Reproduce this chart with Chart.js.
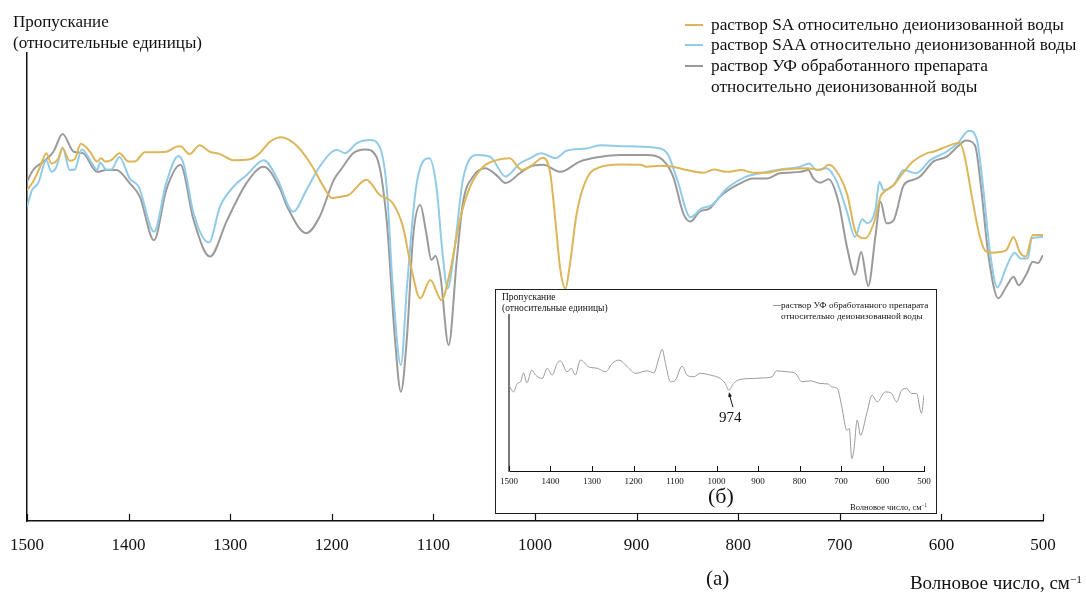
<!DOCTYPE html>
<html>
<head>
<meta charset="utf-8">
<script src="https://cdn.jsdelivr.net/npm/chart.js@4.4.1/dist/chart.umd.min.js"></script>
<style>
  html, body { margin: 0; padding: 0; background: #fff; }
  body { width: 1086px; height: 592px; position: relative; overflow: hidden; font-family: "Liberation Serif", "DejaVu Serif", serif; color: #111; }
  .t { position: absolute; white-space: nowrap; }
  #main { position: absolute; left: 0; top: 0; }
  #insetBox { position: absolute; left: 495px; top: 289px; width: 440px; height: 223px; border: 1px solid #222; background: #fff; }
  #inset { position: absolute; left: 0; top: 0; }
  .mk { position: absolute; height: 2px; }
  sup { font-size: 0.6em; vertical-align: 0.5em; line-height: 0; }
</style>
</head>
<body>
<canvas id="main" width="1086" height="592"></canvas>

<div class="t" style="left:13px; top:12px; font-size:17px; line-height:20px;">Пропускание</div>
<div class="t" style="left:13px; top:33px; font-size:17px; line-height:20px;">(относительные единицы)</div>

<div class="mk" style="left:685px; top:24px; width:18px; background:#DDB65A;"></div>
<div class="mk" style="left:685px; top:44px; width:18px; background:#92CBE8;"></div>
<div class="mk" style="left:685px; top:65px; width:18px; background:#999999;"></div>
<div class="t" style="left:711px; top:15px; font-size:17.3px; line-height:20px;">раствор SA относительно деионизованной воды</div>
<div class="t" style="left:711px; top:35px; font-size:17.3px; line-height:20px;">раствор SAA относительно деионизованной воды</div>
<div class="t" style="left:711px; top:56px; font-size:17.3px; line-height:20px;">раствор УФ обработанного препарата</div>
<div class="t" style="left:711px; top:77px; font-size:17.3px; line-height:20px;">относительно деионизованной воды</div>

<div class="t" style="left:706px; top:566px; font-size:21px; line-height:24px;">(а)</div>
<div class="t" style="right:4px; top:573px; font-size:19px; line-height:20px;">Волновое число, см<sup>−1</sup></div>

<div id="insetBox">
  <canvas id="inset" width="440" height="223"></canvas>
  <div class="t" style="left:6px; top:1px; font-size:9.5px; line-height:12px;">Пропускание</div>
  <div class="t" style="left:6px; top:12px; font-size:9.5px; line-height:12px;">(относительные единицы)</div>
  <div class="mk" style="left:277px; top:15px; width:8px; height:1px; background:#999;"></div>
  <div class="t" style="left:285px; top:9px; font-size:9.2px; line-height:12px;">раствор УФ обработанного препарата</div>
  <div class="t" style="left:285px; top:20px; font-size:9.2px; line-height:12px;">относительно деионизованной воды</div>
  <div class="t" style="left:223px; top:118px; font-size:15px; line-height:18px;">974</div>
  <div class="t" style="left:212px; top:194px; font-size:22px; line-height:24px;">(б)</div>
  <div class="t" style="right:9px; top:211px; font-size:8.5px; line-height:12px;">Волновое число, см<sup>−1</sup></div>
</div>

<script>
// ---- Data (wavenumber, cm^-1 ; transmittance, relative units) ----
const waveSA = [1500,1494,1487,1481,1476,1469,1465,1458,1453,1447,1438,1431,1427,1423,1417,1409,1400,1394,1384,1376,1363,1353,1349,1340,1330,1320,1310,1297,1281,1271,1261,1250,1235,1221,1208,1200,1191,1183,1166,1153,1140,1130,1122,1113,1103,1092,1084,1074,1064,1051,1038,1025,1013,1005,992,985,980,975,970,966,959,949,936,916,896,890,877,864,851,834,824,811,797,785,772,759,733,719,711,704,693,684,675,666,660,656,647,637,628,614,608,595,582,577,570,563,557,549,542,536,529,523,517,510,500];
const valSA  = [70.7,72.5,75.7,78.6,76.4,77.5,79.6,77.0,77.3,80.6,78.9,76.8,77.5,76.8,77.1,78.6,76.8,76.8,78.8,78.8,78.9,80.0,80.1,78.4,80.3,78.9,78.4,77.1,77.3,78.6,81.0,82.0,80.3,76.4,71.4,69.0,69.3,69.7,72.9,69.7,67.9,62.9,54.3,47.6,51.5,47.2,52.9,64.3,71.4,75.7,77.1,77.5,75.0,75.7,77.6,74.3,64.3,53.6,49.7,54.3,65.7,73.2,75.6,76.2,76.1,75.7,75.9,75.7,75.0,74.4,75.1,74.6,75.0,74.4,74.4,75.0,75.4,75.0,76.1,75.0,70.0,61.5,60.4,64.0,69.3,70.4,71.8,74.6,76.8,78.6,78.9,80.0,80.8,77.8,69.3,61.5,57.8,57.3,57.5,57.9,60.7,57.5,56.5,61.1,61.1];

const waveSAA = [1500,1495,1489,1481,1476,1471,1465,1458,1453,1446,1436,1431,1428,1422,1417,1409,1399,1390,1375,1363,1351,1346,1336,1321,1310,1297,1284,1267,1254,1238,1225,1212,1195,1187,1175,1162,1153,1146,1140,1132,1126,1117,1104,1097,1091,1086,1079,1071,1057,1044,1029,1015,1005,994,980,969,949,936,916,883,870,860,847,836,826,811,792,778,759,739,730,723,713,703,693,685,678,673,665,661,657,647,637,625,611,595,584,573,565,559,552,545,536,528,522,515,511,500];
const valSAA  = [67.2,70.7,72.2,77.1,74.6,75.7,79.8,75.0,75.1,79.4,76.4,75.0,76.6,75.1,75.1,77.8,73.2,71.4,61.8,72.2,78.0,76.4,65.7,59.5,67.2,71.4,73.9,77.1,73.3,66.1,70.7,75.7,79.3,78.6,80.8,81.4,80.0,71.4,50.1,33.3,50.1,71.4,77.5,71.4,57.2,49.7,58.6,72.9,78.2,77.8,73.6,76.4,77.5,78.6,77.5,79.1,79.6,80.3,80.1,79.8,78.6,72.9,64.9,66.8,67.5,71.1,73.6,74.3,75.1,75.7,76.4,75.0,75.4,72.5,66.1,60.7,64.5,63.6,66.5,72.5,70.7,71.8,75.0,74.3,77.1,78.9,80.7,83.4,81.4,71.4,57.2,49.9,54.3,57.3,56.1,56.1,60.4,60.7];

const waveUV = [1500,1494,1482,1474,1465,1454,1445,1431,1422,1412,1399,1389,1375,1363,1349,1336,1320,1303,1284,1267,1251,1244,1225,1212,1198,1189,1179,1167,1156,1146,1138,1132,1126,1120,1113,1107,1102,1098,1093,1085,1077,1071,1061,1049,1038,1029,1015,1005,992,975,956,936,916,890,874,864,854,847,838,828,818,801,785,772,759,739,731,726,719,711,701,693,685,679,672,665,660,654,647,637,628,621,608,595,584,576,567,561,554,544,536,529,524,516,510,505,500];
const valUV  = [72.5,75.0,77.1,78.9,82.7,78.9,78.6,74.6,75.0,75.0,72.2,69.3,60.0,70.7,76.1,64.3,56.5,64.3,72.2,75.7,71.0,67.2,61.5,65.0,72.9,75.7,78.6,79.4,77.8,64.3,39.4,27.6,39.4,60.7,67.5,61.5,55.8,56.6,52.2,37.6,55.8,67.9,73.6,75.4,73.9,72.2,74.3,75.7,76.1,74.6,76.8,77.8,78.2,78.2,77.1,73.6,65.7,64.0,66.1,66.8,69.3,71.8,73.2,73.2,74.3,74.6,75.0,73.2,72.3,73.0,67.9,58.6,52.6,57.5,50.2,60.7,68.2,63.6,64.3,71.8,72.9,73.6,76.8,77.8,80.0,81.3,80.3,71.4,57.2,47.6,50.1,52.2,50.4,52.9,55.4,55.1,56.8];

// inset (б): UV-treated preparation
const waveInset = [1500,1489,1480,1472,1465,1457,1445,1436,1420,1408,1396,1384,1376,1360,1350,1340,1328,1308,1287,1267,1251,1235,1215,1195,1167,1151,1138,1131,1123,1111,1099,1083,1071,1055,1039,1015,991,979,970,959,943,911,887,866,856,830,810,794,774,750,730,722,709,698,686,680,674,669,661,653,638,625,613,593,578,566,554,542,530,518,506,500];
const valInset  = [55.0,50.7,56.1,57.2,62.9,56.5,64.7,61.5,59.3,65.8,61.5,69.0,70.6,63.6,65.8,61.5,71.1,66.8,65.8,63.6,69.0,71.1,66.8,62.6,64.2,62.9,73.2,78.0,69.0,57.2,58.3,67.2,61.5,60.4,62.6,61.5,59.3,56.1,51.8,56.1,58.7,59.3,59.7,60.4,64.2,63.6,62.6,57.2,57.8,56.1,55.7,53.9,52.9,41.1,26.1,27.2,8.0,13.3,32.6,22.9,36.9,48.6,44.3,50.7,49.7,44.3,51.8,52.9,49.7,49.7,36.9,48.6];

const xTicks = [1500,1400,1300,1200,1100,1000,900,800,700,600,500];
const annotMarkWave = 970, annotMarkVal = 51.8;

const colSA = '#DDB65A', colSAA = '#92CBE8', colUV = '#9A9A9A';

const pts = (w, v) => w.map((x, i) => ({ x: x, y: v[i] }));

// draws inward (upward) tick marks through the x scale
const inwardTicks = (len, width) => ({
  id: 'inwardTicks',
  afterDraw(chart) {
    const xs = chart.scales.x, ca = chart.chartArea, c = chart.ctx;
    c.save();
    c.strokeStyle = '#111';
    c.lineWidth = width;
    xTicks.forEach(t => {
      const px = Math.round(xs.getPixelForValue(t)) + 0.5;
      c.beginPath();
      c.moveTo(px, ca.bottom);
      c.lineTo(px, ca.bottom - len);
      c.stroke();
    });
    c.restore();
  }
});

function baseOptions(cfg) {
  return {
    responsive: false,
    animation: false,
    layout: { padding: cfg.padding },
    plugins: { legend: { display: false }, tooltip: { enabled: false } },
    elements: {
      point: { radius: 0 },
      line: { borderWidth: cfg.lineWidth, cubicInterpolationMode: 'monotone' }
    },
    scales: {
      x: {
        type: 'linear', reverse: true, min: 500, max: 1500,
        afterBuildTicks(s) { s.ticks = xTicks.map(v => ({ value: v })); },
        ticks: { font: { family: 'Liberation Serif', size: cfg.tickSize }, color: '#111', padding: cfg.tickPad, maxRotation: 0, autoSkip: false, callback: v => String(v) },
        grid: { display: true, drawOnChartArea: false, drawTicks: false },
        border: { display: true, color: '#111', width: cfg.xBorder },
        afterFit(s) { s.height = cfg.xHeight; s.paddingLeft = 0; s.paddingRight = 0; }
      },
      y: {
        min: 0, max: 100,
        ticks: { display: false },
        grid: { display: true, drawOnChartArea: false, drawTicks: false },
        border: { display: true, color: cfg.yColor, width: cfg.yBorder },
        afterFit(s) { s.width = cfg.yWidth; }
      }
    }
  };
}

new Chart(document.getElementById('main').getContext('2d'), {
  type: 'line',
  data: {
    datasets: [
      { label: 'раствор SA относительно деионизованной воды', data: pts(waveSA, valSA), borderColor: colSA },
      { label: 'раствор SAA относительно деионизованной воды', data: pts(waveSAA, valSAA), borderColor: colSAA },
      { label: 'раствор УФ обработанного препарата относительно деионизованной воды', data: pts(waveUV, valUV), borderColor: colUV }
    ]
  },
  options: baseOptions({ padding: { top: 53, right: 43, left: 0, bottom: 0 }, lineWidth: 2, tickSize: 17, tickPad: 14, xBorder: 1.5, xHeight: 71, yColor: '#111', yBorder: 1.5, yWidth: 27 }),
  plugins: [inwardTicks(7, 1.2)]
});

const arrowPlugin = {
  id: 'arrow974',
  afterDraw(chart) {
    const xs = chart.scales.x, ys = chart.scales.y, c = chart.ctx;
    const tx = xs.getPixelForValue(annotMarkWave), ty = ys.getPixelForValue(annotMarkVal) + 2;
    const bx = tx + 4, by = ty + 15;
    c.save();
    c.strokeStyle = '#111'; c.fillStyle = '#111'; c.lineWidth = 1;
    c.beginPath(); c.moveTo(bx, by); c.lineTo(tx + 0.6, ty + 3); c.stroke();
    const ang = Math.atan2(ty - by, tx - bx);
    c.beginPath();
    c.moveTo(tx, ty);
    c.lineTo(tx - 5 * Math.cos(ang - 0.4), ty - 5 * Math.sin(ang - 0.4));
    c.lineTo(tx - 5 * Math.cos(ang + 0.4), ty - 5 * Math.sin(ang + 0.4));
    c.closePath(); c.fill();
    c.restore();
  }
};

new Chart(document.getElementById('inset').getContext('2d'), {
  type: 'line',
  data: {
    datasets: [
      { label: 'раствор УФ обработанного препарата относительно деионизованной воды', data: pts(waveInset, valInset), borderColor: colUV }
    ]
  },
  options: baseOptions({ padding: { top: 25, right: 12, left: 0, bottom: 0 }, lineWidth: 1, tickSize: 9, tickPad: 5, xBorder: 1, xHeight: 42, yColor: '#777', yBorder: 2, yWidth: 13 }),
  plugins: [inwardTicks(5, 1), arrowPlugin]
});
</script>
</body>
</html>
